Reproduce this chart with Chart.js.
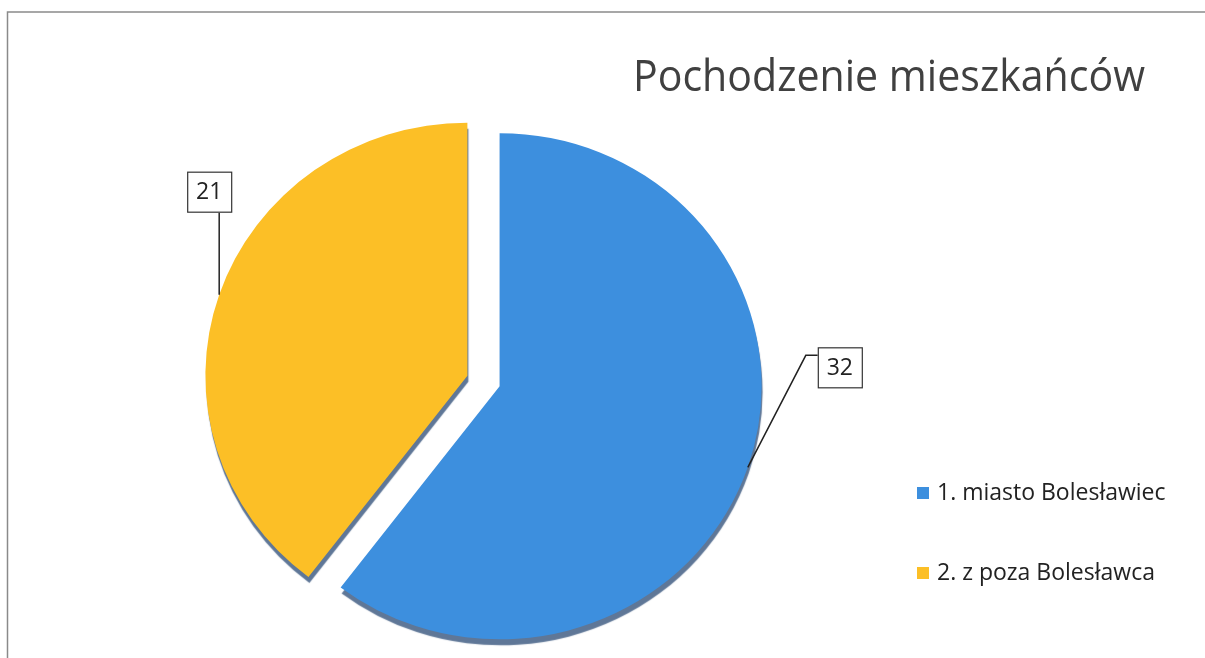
<!DOCTYPE html>
<html lang="pl">
<head>
<meta charset="utf-8">
<title>Pochodzenie mieszkańców</title>
<script src="https://cdn.jsdelivr.net/npm/chart.js@4/dist/chart.umd.min.js"></script>
<style>
    html, body { margin: 0; padding: 0; background: #fff; }
    #wrap { position: relative; width: 1205px; height: 658px; }
</style>
</head>
<body>
<div id="wrap"><canvas id="chart" width="1205" height="658"></canvas></div>
<script>
// ─── Data ─────────────────────────────────────────────────
const title      = 'Pochodzenie mieszkańców';
const categories = ['1. miasto Bolesławiec', '2. z poza Bolesławca'];
const values     = [32, 21];
const colors     = ['#3d8fde', '#fcbf26'];

// Where each value box sits, relative to the point on the slice edge
const LABEL_POS = [
    { box: [70, -120], elbow: [58, -112] },   // 32
    { box: [-32, -123], elbow: [0, -82] },    // 21
];

const FONT    = "'Open Sans', 'Noto Sans', sans-serif";
const EXPLODE = 17;      // px each slice is pulled out
const SQUASH  = 0.966;   // slight 3D tilt of the original

// ─── Plugins ──────────────────────────────────────────────
const frame = {
    id: 'frame',
    beforeDraw(chart) {
        const ctx = chart.ctx;
        ctx.save();
        ctx.fillStyle = '#fff';
        ctx.fillRect(0, 0, chart.width, chart.height);
        ctx.strokeStyle = '#8a8a8a';
        ctx.lineWidth = 1.5;
        ctx.beginPath();
        ctx.moveTo(7.5, chart.height);
        ctx.lineTo(7.5, 12);
        ctx.lineTo(chart.width, 12);
        ctx.stroke();
        ctx.restore();
    }
};

// pull slices out and tilt them, without chart.js growing the radius
const explode = {
    id: 'explode',
    afterDatasetUpdate(chart, args) {
        args.meta.data.forEach(arc => {
            if (arc._exploded) return;
            const base = arc.draw;
            arc.draw = function (ctx, area) {
                const mid = (this.startAngle + this.endAngle) / 2;
                ctx.save();
                ctx.translate(this.x, this.y);
                ctx.scale(1, SQUASH);
                ctx.translate(-this.x, -this.y);
                ctx.translate(Math.cos(mid) * EXPLODE, Math.sin(mid) * EXPLODE);
                base.call(this, ctx, area);
                ctx.restore();
            };
            arc._exploded = true;
        });
    }
};

// fake 3D rim: darker shadow under the slices
const rim = {
    id: 'rim',
    beforeDatasetsDraw(chart) {
        const ctx = chart.ctx;
        ctx.save();
        ctx.shadowColor = 'rgba(55, 85, 125, 0.8)';
        ctx.shadowOffsetX = 1;
        ctx.shadowOffsetY = 6;
        ctx.shadowBlur = 1;
    },
    afterDatasetsDraw(chart) {
        chart.ctx.restore();
    }
};

const extras = {
    id: 'extras',
    afterDraw(chart) {
        const ctx = chart.ctx;
        const meta = chart.getDatasetMeta(0);
        ctx.save();

        // title
        ctx.fillStyle = '#404040';
        ctx.font = `43px ${FONT}`;
        ctx.textAlign = 'left';
        ctx.textBaseline = 'alphabetic';
        ctx.fillText(title, 633, 91, 512);

        // value boxes with leader lines
        meta.data.forEach((arc, i) => {
            const p = arc.getProps(['x', 'y', 'startAngle', 'endAngle', 'outerRadius']);
            const mid = (p.startAngle + p.endAngle) / 2;
            const r = p.outerRadius + EXPLODE;
            const ax = p.x + Math.cos(mid) * r;
            const ay = p.y + Math.sin(mid) * r * SQUASH;
            const L = LABEL_POS[i];
            const bx = ax + L.box[0], by = ay + L.box[1];
            const bw = 44, bh = 40;

            ctx.strokeStyle = '#222';
            ctx.lineWidth = 1.5;
            ctx.beginPath();
            ctx.moveTo(ax, ay);
            ctx.lineTo(ax + L.elbow[0], ay + L.elbow[1]);
            if (i === 0) ctx.lineTo(bx, ay + L.elbow[1]);
            ctx.stroke();

            ctx.fillStyle = '#fff';
            ctx.fillRect(bx, by, bw, bh);
            ctx.strokeStyle = '#333';
            ctx.lineWidth = 1.2;
            ctx.strokeRect(bx + 0.5, by + 0.5, bw, bh);

            ctx.fillStyle = '#222';
            ctx.font = `23px ${FONT}`;
            ctx.textAlign = 'center';
            ctx.textBaseline = 'middle';
            ctx.fillText(String(values[i]), bx + bw / 2, by + bh / 2 + 1);
        });

        // legend
        ctx.font = `23px ${FONT}`;
        ctx.textAlign = 'left';
        ctx.textBaseline = 'middle';
        categories.forEach((c, i) => {
            const y = 493 + i * 80;
            ctx.fillStyle = colors[i];
            ctx.fillRect(917, y - 6, 12, 12);
            ctx.fillStyle = '#222';
            ctx.fillText(c, 937, y, 232);
        });

        ctx.restore();
    }
};

// ─── Chart ────────────────────────────────────────────────
new Chart(document.getElementById('chart').getContext('2d'), {
    type: 'pie',
    data: {
        labels: categories,
        datasets: [{
            data: values,
            backgroundColor: colors,
            borderWidth: 0,
        }]
    },
    options: {
        responsive: false,
        animation: false,
        radius: 262,
        layout: { padding: { left: 0, right: 238, top: 104, bottom: 0 } },
        plugins: {
            legend: { display: false },
            tooltip: { enabled: false },
            title: { display: false },
        }
    },
    plugins: [frame, explode, rim, extras]
});
</script>
</body>
</html>
